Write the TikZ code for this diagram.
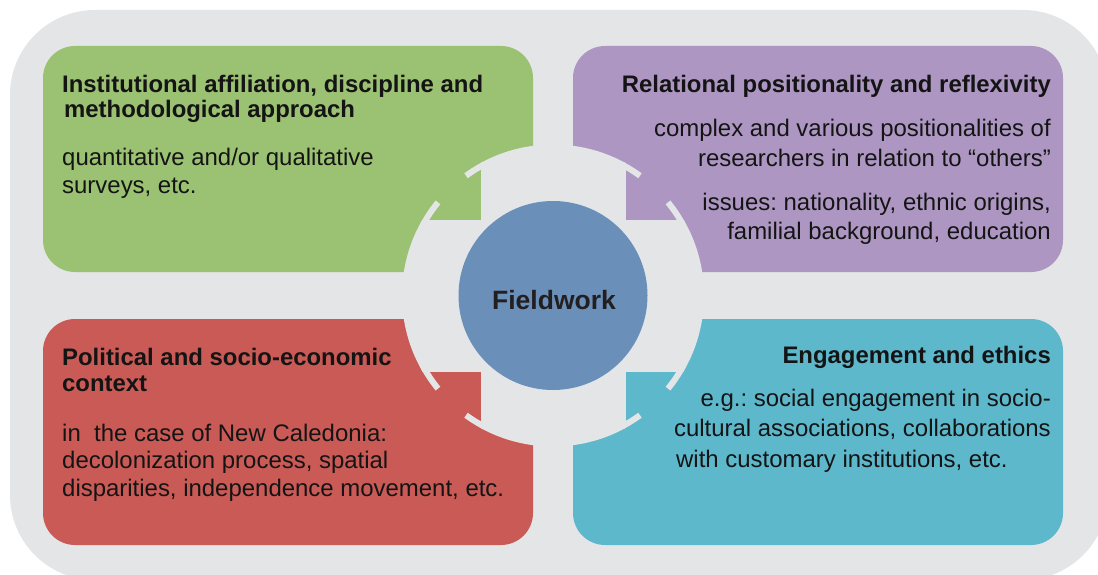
\documentclass[tikz,border=0pt]{standalone}
\usepackage{fontspec}
\setmainfont{Liberation Sans}
\frenchspacing
\definecolor{bggray}{RGB}{228,229,231}
\definecolor{cgreen}{RGB}{155,193,114}
\definecolor{cpurple}{RGB}{173,151,194}
\definecolor{cred}{RGB}{201,90,86}
\definecolor{cteal}{RGB}{94,184,204}
\definecolor{cblue}{RGB}{106,143,185}
\definecolor{txt}{RGB}{20,20,20}
\definecolor{fwtxt}{RGB}{35,31,32}
\begin{document}
\begin{tikzpicture}[x=1pt,y=-1pt,
 box/.style={rounded corners=32},
 tickmark/.style={draw=bggray, line width=6pt},
 ttl/.style={inner sep=0pt, text=txt, font=\frenchspacing\bfseries\fontsize{23.9}{26}\selectfont},
 bdy/.style={inner sep=0pt, text=txt, font=\frenchspacing\fontsize{23.95}{28}\selectfont}]
\useasboundingbox (0,0) rectangle (1098,575);
\begin{scope}
\clip (0,0) rectangle (1098,575);
\fill[bggray, rounded corners=85] (10,10) rectangle (1108,580);
\end{scope}
\coordinate (C) at (553,295.5);
% quadrant boxes
\fill[cgreen, box] (43,46) rectangle (533,272);
\fill[cpurple, box] (573,46) rectangle (1063,272);
\fill[cred, box] (43,319) rectangle (533,545);
\fill[cteal, box] (573,319) rectangle (1063,545);
% ring cut-out
\fill[bggray] (C) circle (151);
% arrow pieces
\fill[cgreen] (420,160) rectangle (480.5,219.5);
\fill[cpurple] (625.5,160) rectangle (686,219.5);
\fill[cred] (420,371.5) rectangle (480.5,431);
\fill[cteal] (625.5,371.5) rectangle (686,431);
\foreach \a/\b in {-118/-126,-141/-151,-62/-54,-39/-29,118/126,141/151,62/54,39/29}
  \draw[tickmark] (C) ++(\a:148) arc[start angle=\a, end angle=\b, radius=148];
% centre
\node[circle, fill=cblue, minimum size=189pt, inner sep=0pt] (fw) at (C) {};
\node[anchor=base, inner sep=0pt, text=fwtxt, font=\bfseries\fontsize{26.5}{30}\selectfont] (fwlabel) at (554,309) {Fieldwork};
% green texts
\node[ttl, anchor=base west] (g1) at (62,92.5) {Institutional affiliation, discipline and};
\node[ttl, anchor=base west] (g2) at (64,117.5) {methodological approach};
\node[bdy, anchor=base west] (g3) at (62,165.5) {quantitative and/or qualitative};
\node[bdy, anchor=base west] (g4) at (62,193.5) {surveys, etc.};
% purple texts
\node[ttl, anchor=base east] (p1) at (1051,92.5) {Relational positionality and reflexivity};
\node[bdy, anchor=base east] (p2) at (1051,136.5) {complex and various positionalities of};
\node[bdy, anchor=base east] (p3) at (1051,166.5) {researchers in relation to “others”};
\node[bdy, anchor=base east] (p4) at (1051,210) {issues: nationality, ethnic origins,};
\node[bdy, anchor=base east] (p5) at (1051,239.5) {familial background, education};
% red texts
\node[ttl, anchor=base west] (r1) at (62,365) {Political and socio-economic};
\node[ttl, anchor=base west] (r2) at (62,391) {context};
\node[bdy, anchor=base west] (r3) at (62,441.5) {in\ \ the case of New Caledonia:};
\node[bdy, anchor=base west] (r4) at (62,468.5) {decolonization process, spatial};
\node[bdy, anchor=base west] (r5) at (62,496.5) {disparities, independence movement, etc.};
% teal texts
\node[ttl, anchor=base east] (t1) at (1051,363.5) {Engagement and ethics};
\node[bdy, anchor=base east] (t2) at (1051,406) {e.g.: social engagement in socio-};
\node[bdy, anchor=base east] (t3) at (1051,436) {cultural associations, collaborations};
\node[bdy, anchor=base west] (t4) at (676,467) {with customary institutions, etc.};
\end{tikzpicture}
\end{document}
